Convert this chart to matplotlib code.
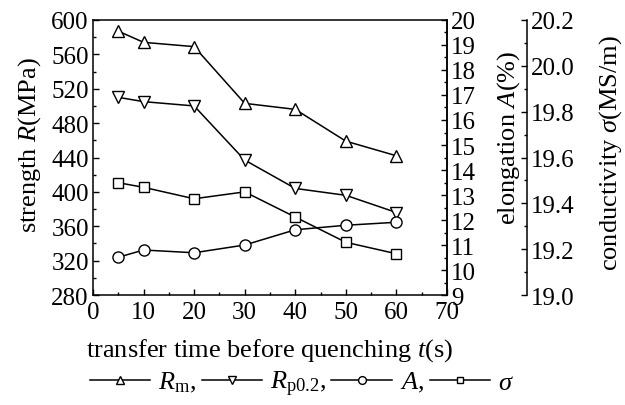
import matplotlib
matplotlib.use("Agg")
import matplotlib.pyplot as plt
from matplotlib.ticker import MultipleLocator, FormatStrFormatter

plt.rcParams['font.family'] = ['Liberation Serif', 'DejaVu Serif']
plt.rcParams['mathtext.fontset'] = 'custom'
plt.rcParams['mathtext.rm'] = 'Liberation Serif'
plt.rcParams['mathtext.it'] = 'Liberation Serif:italic'
plt.rcParams['mathtext.bf'] = 'Liberation Serif:bold'

# Data
time_s = [5, 10, 20, 30, 40, 50, 60]
Rm = [587, 574, 569, 503, 496, 459, 442]
Rp02 = [510, 505, 500, 437, 404, 396, 376]
elong_A = [10.51, 10.80, 10.69, 11.00, 11.61, 11.79, 11.91]
sigma = [19.49, 19.47, 19.42, 19.45, 19.34, 19.23, 19.18]

fs = 18
fig = plt.figure(figsize=(6.25, 4.06), dpi=100)
ax = fig.add_axes([0.1488, 0.2709, 0.5664, 0.6774])
ax2 = ax.twinx()
ax3 = ax.twinx()
ax3.spines['right'].set_position(('axes', 1.226))
for a in (ax2, ax3):
    a.spines['top'].set_visible(False)
    a.spines['left'].set_visible(False)
    a.spines['bottom'].set_visible(False)
ax3.spines['right'].set_visible(True)

lw = 1.1
ms = 8
kw = dict(color='black', lw=lw, markersize=ms, markerfacecolor='white',
          markeredgecolor='black', markeredgewidth=1.0)
l1, = ax.plot(time_s, Rm, marker='^', **kw)
l2, = ax.plot(time_s, Rp02, marker='v', **kw)
l3, = ax2.plot(time_s, elong_A, marker='o', **kw)
l4, = ax3.plot(time_s, sigma, marker='s', markersize=7, color='black', lw=lw,
               markerfacecolor='white', markeredgecolor='black', markeredgewidth=1.0)

ax.set_xlim(0, 70)
ax.set_ylim(280, 600)
ax2.set_ylim(9, 20)
ax3.set_ylim(19.0, 20.2)

ax.xaxis.set_major_locator(MultipleLocator(10))
ax.xaxis.set_minor_locator(MultipleLocator(5))
ax.yaxis.set_major_locator(MultipleLocator(40))
ax.yaxis.set_minor_locator(MultipleLocator(20))
ax2.yaxis.set_major_locator(MultipleLocator(1))
ax2.yaxis.set_minor_locator(MultipleLocator(0.5))
ax3.yaxis.set_major_locator(MultipleLocator(0.2))
ax3.yaxis.set_minor_locator(MultipleLocator(0.1))
ax3.yaxis.set_major_formatter(FormatStrFormatter('%.1f'))

ax.tick_params(axis='both', which='both', direction='in', top=False, right=False,
               labelsize=fs, width=1.0)
ax.tick_params(which='major', length=4)
ax.tick_params(which='minor', length=2.5)
ax.tick_params(axis='x', pad=4)
ax.tick_params(axis='y', pad=3)
for a in (ax2, ax3):
    a.tick_params(axis='y', which='both', direction='in', labelsize=fs, width=1.0, pad=3)
    a.tick_params(which='major', length=4)
    a.tick_params(which='minor', length=2.5)

for a in (ax, ax2, ax3):
    for s in a.spines.values():
        s.set_linewidth(1.1)

ax.set_xlabel(r'transfer time before quenching $t$(s)', fontsize=fs + 1, labelpad=10)
ax.set_ylabel(r'strength $R$(MPa)', fontsize=fs + 1)
ax2.set_ylabel(r'elongation $A$(%)', fontsize=fs + 1)
ax3.set_ylabel(r'conductivity $\sigma$(MS/m)', fontsize=fs + 1)
ax.yaxis.set_label_coords(-0.14, 0.55)
ax2.yaxis.set_label_coords(1.136, 0.575)
ax3.yaxis.set_label_coords(1.424, 0.518)

labels = [r'$R_{\mathrm{m}}$,', r'$R_{\mathrm{p0.2}}$,', r'$A$,', r'$\sigma$']
fig.legend([l1, l2, l3, l4], labels, loc='center', bbox_to_anchor=(0.483, 0.052),
           ncol=4, frameon=False, fontsize=fs + 1, handlelength=2.3,
           handletextpad=0.3, columnspacing=0.2, markerscale=0.7, borderaxespad=0)

fig.savefig('out.png', dpi=100)
